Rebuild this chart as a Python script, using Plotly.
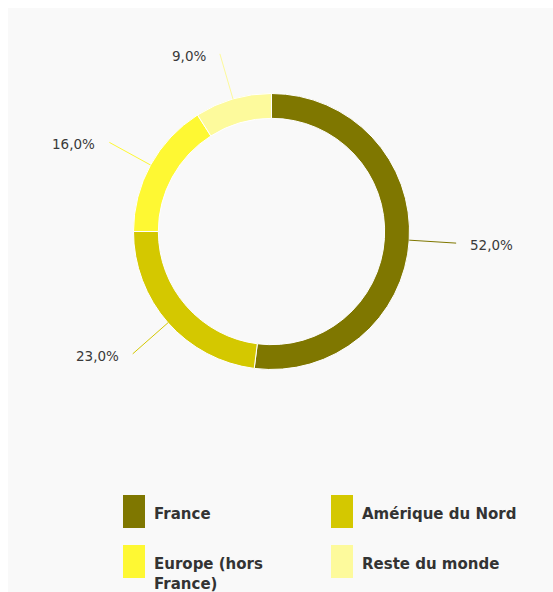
import math
import textwrap
import plotly.graph_objects as go

# ---- data ----
categories = ["France", "Amérique du Nord", "Europe (hors France)", "Reste du monde"]
shares = [52.0, 23.0, 16.0, 9.0]
colors = ["#7f7700", "#d4c800", "#fef833", "#fdfa9c"]

# ---- layout constants ----
W, H = 553, 592
CX, CY = 271.5, 231.5      # donut centre (px)
R_OUT = 138.0              # outer radius (px)
HOLE = 0.82
LEAD = 47                  # leader line length (px)
GAP = 12                   # gap between leader end and label

def px2paper(x, y):
    return x / W, 1 - y / H

dom_x = [(CX - R_OUT) / W, (CX + R_OUT) / W]
dom_y = [1 - (CY + R_OUT) / H, 1 - (CY - R_OUT) / H]

fig = go.Figure()
fig.add_trace(go.Pie(
    labels=categories,
    values=shares,
    hole=HOLE,
    sort=False,
    direction="clockwise",
    rotation=0,
    marker=dict(colors=colors, line=dict(color="#ffffff", width=1)),
    textinfo="none",
    hoverinfo="label+percent",
    showlegend=False,
    domain=dict(x=dom_x, y=dom_y),
))

shapes = []
annotations = []

# background panel (white border top/left)
shapes.append(dict(type="rect", xref="paper", yref="paper",
                   x0=8 / W, x1=1, y0=0, y1=1 - 8 / H,
                   fillcolor="#f9f9f9", line=dict(width=0), layer="below"))

total = sum(shares)
cum = 0.0
for name, v, c in zip(categories, shares, colors):
    mid = (cum + v / 2) / total * 2 * math.pi
    cum += v
    sx, sy = math.sin(mid), -math.cos(mid)
    ax, ay = CX + R_OUT * sx, CY + R_OUT * sy
    ex, ey = CX + (R_OUT + LEAD) * sx, CY + (R_OUT + LEAD) * sy
    x0, y0 = px2paper(ax, ay)
    x1, y1 = px2paper(ex, ey)
    shapes.append(dict(type="line", xref="paper", yref="paper",
                       x0=x0, y0=y0, x1=x1, y1=y1,
                       line=dict(color=c, width=1)))
    right = sx >= 0
    lx = ex + GAP if right else ex - GAP
    lxp, lyp = px2paper(lx, ey + 2)
    annotations.append(dict(
        x=lxp, y=lyp, xref="paper", yref="paper",
        text=f"{v:.1f}%".replace(".", ","),
        showarrow=False, xanchor="left" if right else "right", yanchor="middle",
        font=dict(family="DejaVu Sans", size=13.5, color="#3a3a3a"),
    ))

# manual legend (2 columns)
LEG_X0, LEG_DX = 123, 208
LEG_Y0, LEG_DY = 495, 50
SW_W, SW_H = 22, 33
for i, (name, c) in enumerate(zip(categories, colors)):
    col, row = i % 2, i // 2
    x0 = LEG_X0 + col * LEG_DX
    y0 = LEG_Y0 + row * LEG_DY
    px0, py0 = px2paper(x0, y0)
    px1, py1 = px2paper(x0 + SW_W, y0 + SW_H)
    shapes.append(dict(type="rect", xref="paper", yref="paper",
                       x0=px0, x1=px1, y0=py1, y1=py0,
                       fillcolor=c, line=dict(width=0)))
    lines = textwrap.wrap(name, 16)
    tx, ty = px2paper(x0 + SW_W + 7, y0 + 8)
    annotations.append(dict(
        x=tx, y=ty, xref="paper", yref="paper",
        text="<br>".join(lines), align="left",
        showarrow=False, xanchor="left", yanchor="top",
        font=dict(family="DejaVu Sans", size=15, color="#333333", weight="bold"),
    ))

fig.update_layout(
    width=W, height=H,
    margin=dict(l=0, r=0, t=0, b=0),
    paper_bgcolor="#ffffff",
    plot_bgcolor="#ffffff",
    shapes=shapes,
    annotations=annotations,
    showlegend=False,
)

fig.write_html("out.html")
